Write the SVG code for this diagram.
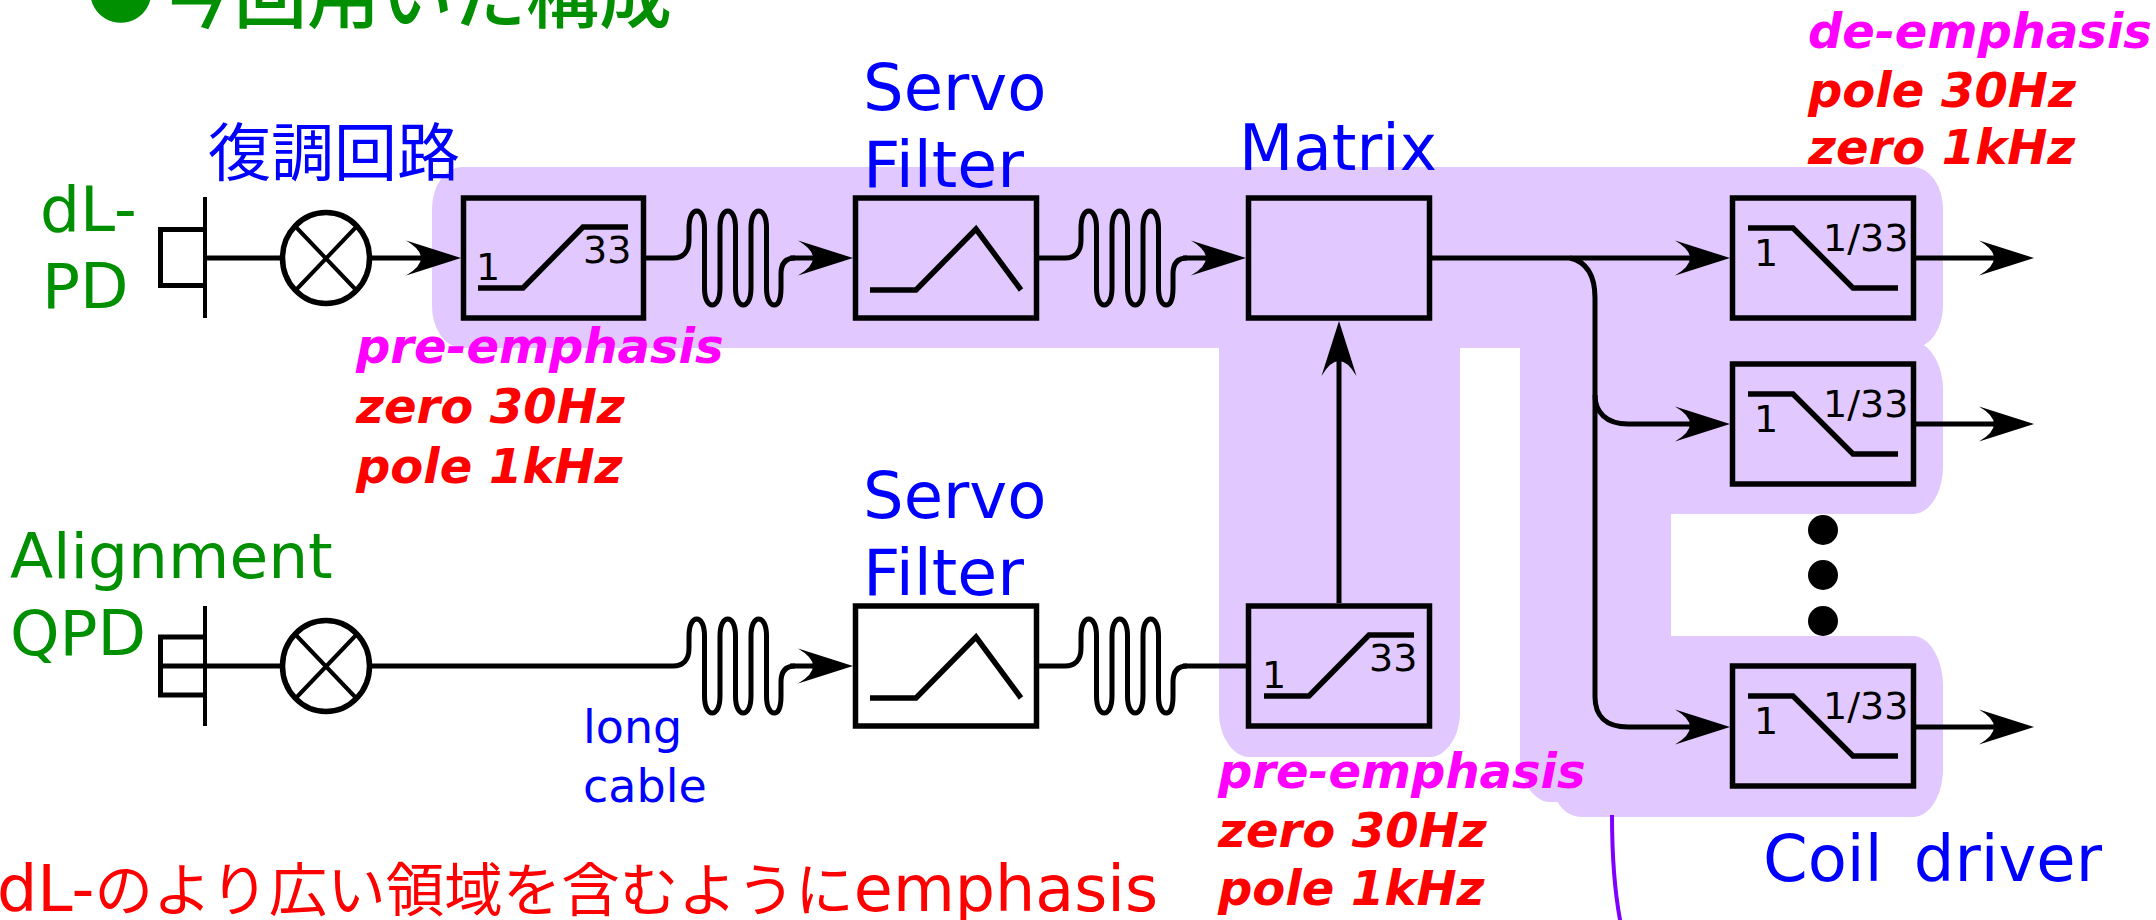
<svg xmlns="http://www.w3.org/2000/svg" width="2156" height="920" viewBox="0 0 2156 920">
<style>
text{font-family:"DejaVu Sans","Noto Sans CJK JP",sans-serif}
.g{fill:#008f00;font-size:63px}
.b{fill:#0000ff;font-size:64px}
.c{fill:#0000ff;font-size:46px}
.r{fill:#ff0000;font-size:63.500px}
.em{font-size:48px;font-weight:bold;font-style:italic}
.m{fill:#ff00ff}
.e{fill:#ff0000}
.n{fill:#000;font-size:38px}
.h{fill:#e1c8ff;stroke:none}
.box{fill:none;stroke:#000;stroke-width:5.500}
.l{fill:none;stroke:#000;stroke-width:5}
.t{fill:none;stroke:#000;stroke-width:5.500}
.a{fill:none;stroke:#000;stroke-width:5;marker-end:url(#ah)}
</style>
<defs>
<marker id="ah" markerUnits="userSpaceOnUse" markerWidth="60" markerHeight="40" refX="31" refY="20" orient="auto" overflow="visible">
<path d="M56 20L1 2.500Q31 20 1 37.500Z" fill="#000"/>
</marker>
<g id="mz"><path class="l" d="M0 0H28C38 0 44-6 44-18V-30C44-41 47.500-47 51.750-47S59.500-41 59.500-30V30C59.500 41 63 47 67.250 47S75 41 75 30V-30C75-41 78.500-47 82.750-47S90.500-41 90.500-30V30C90.500 41 94 47 98.250 47S106 41 106 30V-30C106-41 109.500-47 113.750-47S121.500-41 121.500-30V30C121.500 41 125 47 129.250 47S136 41 136 30V16C136 6 140 0 150 0"/></g>
<g id="up"><path class="t" d="M17 35H62L122-26H167"/><text class="n" x="15" y="27">1</text><text class="n" x="122" y="10">33</text></g>
<g id="dn"><path class="t" d="M18-30H63L123 30H168"/><text class="n" x="24" y="8">1</text><text class="n" x="93" y="-7">1/33</text></g>
<g id="sv"><path class="t" d="M17 32H63L123-29L168 32"/></g>
<g id="mix"><ellipse cx="0" cy="0" rx="43.500" ry="45.500" fill="#fff" stroke="#000" stroke-width="5.500"/><path d="M-32-33L32 34M32-33L-32 34" fill="none" stroke="#000" stroke-width="4"/></g>
</defs>

<g id="highlight">
<rect class="h" x="432" y="167" width="1511" height="181" rx="30" ry="42"/>
<path class="h" d="M1219 300H1460V712C1460 738 1445 757 1430 757H1249C1234 757 1219 738 1219 712Z"/>
<path class="h" d="M1520 300H1671V802H1550C1535 802 1520 782 1520 760Z"/>
<path class="h" d="M1650 342H1913C1930 342 1943 365 1943 390V466C1943 492 1930 514 1913 514H1650Z"/>
<path class="h" d="M1650 636H1913C1930 636 1943 660 1943 685V769C1943 795 1930 817 1913 817H1583C1570 817 1560 810 1554 795L1650 700Z"/>
</g>

<g id="connectors">
<path d="M1612 815C1612 850 1614 890 1621 925" fill="none" stroke="#8000ff" stroke-width="4"/>
<path class="l" d="M205 258H284"/>
<path class="a" d="M368 258H436"/>
<use href="#mz" x="645" y="258"/>
<path class="a" d="M790 258H828"/>
<use href="#mz" x="1037" y="258"/>
<path class="a" d="M1183 258H1221"/>
<path class="a" d="M1432 258H1705"/>
<path class="a" d="M1570 258C1587 262 1595 275 1595 298V697C1595 716 1606 727 1628 727H1705"/>
<path class="a" d="M1595 395C1595 412 1606 424 1628 424H1705"/>
<path class="a" d="M1915 258H2009"/>
<path class="a" d="M1915 424H2009"/>
<path class="a" d="M1915 727H2009"/>
<path class="l" d="M160 666H284"/>
<path class="l" d="M368 666H645"/>
<use href="#mz" x="645" y="666"/>
<path class="a" d="M790 666H828"/>
<use href="#mz" x="1037" y="666"/>
<path class="l" d="M1183 666H1246"/>
<path class="a" d="M1339 603V346"/>
</g>

<g id="pd1"><path d="M205 229.500H160.500V285.500H205" fill="none" stroke="#000" stroke-width="5"/><path d="M205 197V318" stroke="#000" stroke-width="4"/><text class="g" x="40" y="231">dL-</text><text class="g" x="42" y="308">PD</text></g>
<g id="qpd"><path d="M205 637H160.500V695H205" fill="none" stroke="#000" stroke-width="5"/><path d="M205 606V726" stroke="#000" stroke-width="4"/><text class="g" x="10" y="578">Alignment</text><text class="g" x="10" y="655">QPD</text></g>
<g id="mixer1"><use href="#mix" x="326" y="258"/><text x="208" y="175" fill="#0000ff" font-size="63">復調回路</text></g>
<g id="mixer2"><use href="#mix" x="326" y="666"/></g>

<g id="pre1"><rect class="box" x="463.500" y="198" width="180" height="120"/><use href="#up" x="461" y="253"/>
<text class="em m" x="356" y="363">pre-emphasis</text><text class="em e" x="356" y="423">zero 30Hz</text><text class="em e" x="356" y="483">pole 1kHz</text></g>
<g id="servo1"><rect class="box" x="855.500" y="198" width="181" height="120"/><use href="#sv" x="853" y="258"/><text class="b" x="863" y="110">Servo</text><text class="b" x="863" y="187" textLength="161" lengthAdjust="spacingAndGlyphs">Filter</text></g>
<g id="servo2"><rect class="box" x="855.500" y="606" width="181" height="120"/><use href="#sv" x="853" y="666"/><text class="b" x="863" y="518">Servo</text><text class="b" x="863" y="595" textLength="161" lengthAdjust="spacingAndGlyphs">Filter</text></g>
<g id="matrix"><rect class="box" x="1248.500" y="198" width="181" height="120"/><text class="b" x="1239" y="170" textLength="198" lengthAdjust="spacingAndGlyphs">Matrix</text></g>
<g id="pre2"><rect class="box" x="1248.500" y="606" width="181" height="120"/><use href="#up" x="1247" y="661"/>
<text class="em m" x="1218" y="788">pre-emphasis</text><text class="em e" x="1218" y="847">zero 30Hz</text><text class="em e" x="1218" y="905">pole 1kHz</text></g>
<g id="driver1"><rect class="box" x="1732.500" y="198" width="181" height="120"/><use href="#dn" x="1730" y="258"/>
<text class="em m" x="1808" y="48">de-emphasis</text><text class="em e" x="1808" y="107">pole 30Hz</text><text class="em e" x="1808" y="164">zero 1kHz</text></g>
<g id="driver2"><rect class="box" x="1732.500" y="364" width="181" height="120"/><use href="#dn" x="1730" y="424"/></g>
<g id="driver3"><rect class="box" x="1732.500" y="666" width="181" height="120"/><use href="#dn" x="1730" y="726"/><text class="b" x="1763" y="881" word-spacing="11">Coil driver</text></g>
<g id="dots"><circle cx="1823" cy="530" r="15"/><circle cx="1823" cy="575" r="15"/><circle cx="1823" cy="621" r="15"/></g>
<g id="cable"><text class="c" x="583" y="743">long</text><text class="c" x="583" y="802">cable</text></g>
<g id="notes"><text x="86" y="13" fill="#008f00" font-size="80">●</text><text x="161" y="22" fill="#008f00" font-size="73" font-weight="500">今回用いた構成</text><text x="-3" y="911" fill="#ff0000" font-size="58.500"><tspan class="r">dL-</tspan>のより広い領域を含むように<tspan class="r">emphasis</tspan></text></g>
</svg>
